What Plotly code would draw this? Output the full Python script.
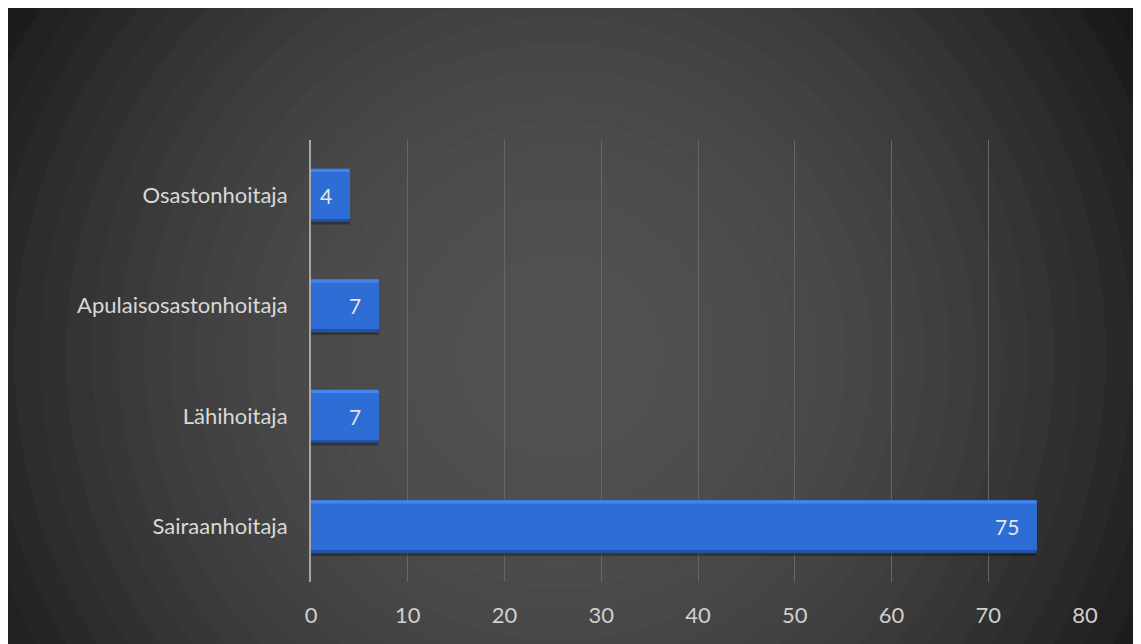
import plotly.graph_objects as go

categories = ["Sairaanhoitaja", "Lähihoitaja", "Apulaisosastonhoitaja", "Osastonhoitaja"]
values = [75, 7, 7, 4]
x_ticks = [0, 10, 20, 30, 40, 50, 60, 70, 80]

# page has an 8px body margin: figure origin sits at (8, 8) in the screenshot
OFF = 8
W, H = 1141 - OFF, 644 - OFF
L, R, T, B = 311 - OFF, 1085 - OFF, 140 - OFF, 582 - OFF  # plot area in figure pixels
FONT = "Lato, Open Sans, sans-serif"


def px_to_paper_x(px):
    return (px - L) / (R - L)


def px_to_paper_y(py):
    return (B - py) / (B - T)


shapes = []
shapes.append(dict(type="rect", xref="paper", yref="paper", layer="below",
                   x0=px_to_paper_x(-2), x1=px_to_paper_x(W + 2), y0=px_to_paper_y(H + 2), y1=px_to_paper_y(-2),
                   fillcolor="#161616", line=dict(width=0)))
cx, cy, RMAX = 560 - OFF, 355 - OFF, 670
radii = list(range(780, 0, -26))
for r in radii:
    rm = max(r - 13, 0)
    t = min(rm / RMAX, 1.15)
    v = 81 - 58 * (t ** 2.1)
    v = int(max(20, min(81, v)))
    col = "#%02x%02x%02x" % (v, v, v)
    shapes.append(dict(type="circle", xref="paper", yref="paper", layer="below",
                       x0=px_to_paper_x(cx - r), x1=px_to_paper_x(cx + r),
                       y0=px_to_paper_y(cy + r), y1=px_to_paper_y(cy - r),
                       fillcolor=col, line=dict(width=0)))

fig = go.Figure()
BW = 0.48
EDGE = 0.03
# soft shadow
fig.add_trace(go.Bar(y=categories, x=values, orientation="h", width=BW, offset=-BW / 2 - 0.025,
                     marker=dict(color="rgba(0,0,0,0.3)", line=dict(width=0)), hoverinfo="skip"))
# dark bottom edge (full bar)
fig.add_trace(go.Bar(y=categories, x=values, orientation="h", width=BW, offset=-BW / 2,
                     marker=dict(color="#1f52a8", line=dict(width=0)), hoverinfo="skip"))
# light top edge
fig.add_trace(go.Bar(y=categories, x=values, orientation="h", width=BW - EDGE, offset=-BW / 2 + EDGE,
                     marker=dict(color="#4586ec", line=dict(width=0)), hoverinfo="skip"))
# main body
fig.add_trace(go.Bar(y=categories, x=values, orientation="h", width=BW - 2 * EDGE, offset=-BW / 2 + EDGE,
                     marker=dict(color="#2e6dd5", line=dict(width=0)), hoverinfo="x+y"))

annotations = []
for c, v in zip(categories, values):
    annotations.append(dict(x=v, y=c, xref="x", yref="y", text=str(v), showarrow=False,
                            xanchor="right", xshift=-16,
                            font=dict(family=FONT, size=21, color="#e6e6e6")))

fig.update_layout(
    width=W, height=H,
    margin=dict(l=L, r=W - R, t=T, b=H - B, pad=0),
    paper_bgcolor="#161616",
    plot_bgcolor="rgba(0,0,0,0)",
    barmode="overlay",
    showlegend=False,
    shapes=shapes,
    annotations=annotations,
    xaxis=dict(range=[0, 80], tickvals=x_ticks, ticktext=[str(t) for t in x_ticks],
               showgrid=True, gridcolor="#666666", gridwidth=1,
               zeroline=False, showline=False, ticks="",
               tickfont=dict(family=FONT, size=22, color="#cfcfcf"),
               ticklabelstandoff=18, fixedrange=True),
    yaxis=dict(categoryorder="array", categoryarray=categories,
               showgrid=False, zeroline=False,
               showline=True, linecolor="#a6a6a6", linewidth=2, ticks="",
               tickfont=dict(family=FONT, size=22, color="#d9d9d9"),
               ticklabelstandoff=17, fixedrange=True),
)

fig.write_html("out.html")
